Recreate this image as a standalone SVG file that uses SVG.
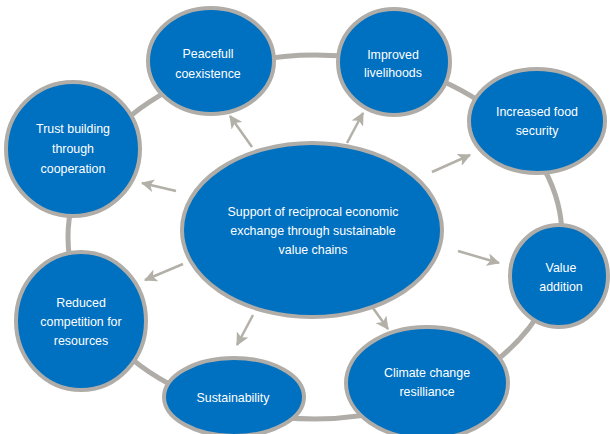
<svg xmlns="http://www.w3.org/2000/svg" width="610" height="434" viewBox="0 0 610 434">
<defs>
<marker id="ah" viewBox="0 0 12 12" refX="11" refY="6" markerWidth="13" markerHeight="13" markerUnits="userSpaceOnUse" orient="auto">
<path d="M0,0 L12,6 L0,12 L3,6 Z" fill="#b3b0a8"/>
</marker>
<style>
.ring{fill:none;stroke:#b0ada8;stroke-width:5}
.arr{stroke:#b3b0a8;stroke-width:2.5;fill:none;marker-end:url(#ah)}
.node ellipse{fill:#0070c0;stroke:#b0ada8;stroke-width:4}
.node text{fill:#ffffff;font-family:"Liberation Sans",Arial,sans-serif;font-size:12.4px;text-anchor:middle}
</style>
</defs>
<rect width="610" height="434" fill="#ffffff"/>
<g id="connectors">
<ellipse class="ring" cx="315" cy="237" rx="247" ry="182"/>
<line class="arr" x1="252" y1="147" x2="230" y2="116"/>
<line class="arr" x1="347" y1="143" x2="363" y2="113"/>
<line class="arr" x1="432" y1="172" x2="470" y2="155"/>
<line class="arr" x1="176" y1="191" x2="142" y2="183"/>
<line class="arr" x1="183" y1="264" x2="145" y2="280"/>
<line class="arr" x1="253" y1="315" x2="237" y2="345"/>
<line class="arr" x1="373" y1="308" x2="388" y2="329"/>
<line class="arr" x1="458" y1="251" x2="499" y2="263"/>
</g>
<g id="center" class="node">
<ellipse cx="312" cy="230" rx="130" ry="87"/>
<text x="313" y="216">Support of reciprocal economic</text>
<text x="313" y="235">exchange through sustainable</text>
<text x="313" y="254">value chains</text>
</g>
<g id="peacefull" class="node">
<ellipse cx="211" cy="61" rx="63" ry="53"/>
<text x="208" y="57.5">Peacefull</text>
<text x="208" y="77.5">coexistence</text>
</g>
<g id="improved" class="node">
<ellipse cx="394" cy="62" rx="56" ry="53"/>
<text x="393" y="59">Improved</text>
<text x="393" y="77">livelihoods</text>
</g>
<g id="food" class="node">
<ellipse cx="537" cy="121" rx="68" ry="52"/>
<text x="537" y="116">Increased food</text>
<text x="537" y="135">security</text>
</g>
<g id="trust" class="node">
<ellipse cx="73" cy="149" rx="67" ry="67"/>
<text x="73" y="133">Trust building</text>
<text x="73" y="153">through</text>
<text x="73" y="173">cooperation</text>
</g>
<g id="value" class="node">
<ellipse cx="559" cy="276" rx="49" ry="51"/>
<text x="561" y="272">Value</text>
<text x="561" y="291">addition</text>
</g>
<g id="reduced" class="node">
<ellipse cx="81" cy="321" rx="65" ry="69"/>
<text x="81" y="307">Reduced</text>
<text x="81" y="326">competition for</text>
<text x="81" y="345">resources</text>
</g>
<g id="sustainability" class="node">
<ellipse cx="234" cy="397" rx="70" ry="39"/>
<text x="233" y="402">Sustainability</text>
</g>
<g id="climate" class="node">
<ellipse cx="427" cy="383" rx="81" ry="56"/>
<text x="427" y="377">Climate change</text>
<text x="427" y="396">resilliance</text>
</g>
</svg>
